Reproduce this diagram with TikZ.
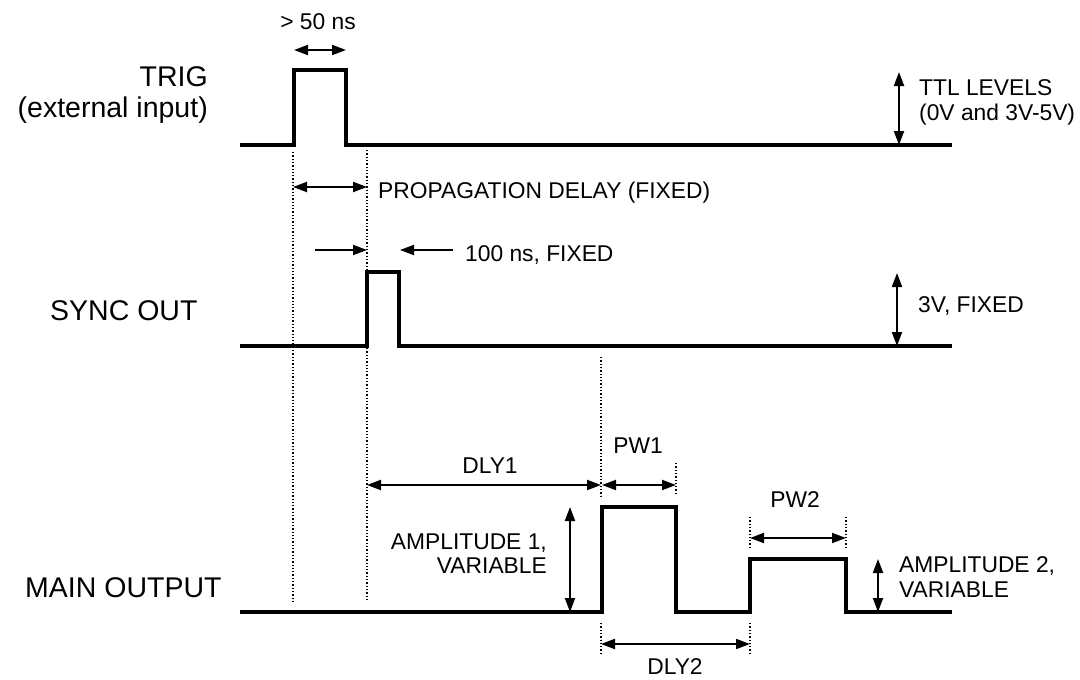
\documentclass[tikz,border=0pt]{standalone}
\usepackage{fontspec}
\setmainfont{Liberation Sans}
\usetikzlibrary{arrows.meta}
\begin{document}
\begin{tikzpicture}[x=1pt,y=-1pt,
  wave/.style={line width=4pt, line join=miter, line cap=butt},
  dim/.style={line width=2pt, {Triangle[length=14pt,width=10pt]}-{Triangle[length=14pt,width=10pt]}},
  onearrow/.style={line width=2pt, -{Triangle[length=14pt,width=10pt]}},
  guide/.style={line width=1.3pt, dash pattern=on 1.3pt off 2pt},
  biglbl/.style={font=\fontsize{28.5}{34}\selectfont, inner sep=0pt},
  lbl/.style={font=\fontsize{22.8}{26}\selectfont, inner sep=0pt}]
\useasboundingbox (0,0) rectangle (1080,680);

% ---------- key coordinates ----------
\coordinate (t0) at (240,145);   \coordinate (tend) at (952,145);
\coordinate (s0) at (240,346);   \coordinate (send) at (952,346);
\coordinate (m0) at (240,612);   \coordinate (mend) at (952,612);

% ---------- waveforms ----------
\draw[wave] (t0) -- (294,145) -- (294,70) -- (346,70) -- (346,145) -- (tend);
\draw[wave] (s0) -- (367,346) -- (367,272) -- (399,272) -- (399,346) -- (send);
\draw[wave] (m0) -- (602,612) -- (602,507) -- (676,507) -- (676,612)
            -- (750,612) -- (750,559) -- (846,559) -- (846,612) -- (mend);

% ---------- dotted guides ----------
\coordinate (g1a) at (293,152); \coordinate (g1b) at (293,601);
\coordinate (g2a) at (367,150); \coordinate (g2b) at (367,601);
\draw[guide] (g1a) -- (g1b);
\draw[guide] (g2a) -- (g2b);
\coordinate (g3a) at (601,357); \coordinate (g3b) at (601,496);
\draw[guide] (g3a) -- (g3b);
\coordinate (g4a) at (676,463); \coordinate (g4b) at (676,494);
\draw[guide] (g4a) -- (g4b);
\coordinate (g5a) at (601,623); \coordinate (g5b) at (601,654);
\draw[guide] (g5a) -- (g5b);
\coordinate (g6a) at (750,623); \coordinate (g6b) at (750,654);
\draw[guide] (g6a) -- (g6b);
\coordinate (g7a) at (750,517); \coordinate (g7b) at (750,548);
\draw[guide] (g7a) -- (g7b);
\coordinate (g8a) at (846,517); \coordinate (g8b) at (846,548);
\draw[guide] (g8a) -- (g8b);

% ---------- dimension arrows ----------
\coordinate (w50a) at (294,50);  \coordinate (w50b) at (346,50);
\draw[dim] (w50a) -- (w50b);
\coordinate (pda) at (293,187);  \coordinate (pdb) at (367,187);
\draw[dim] (pda) -- (pdb);
\coordinate (hna) at (315,250);  \coordinate (hnb) at (367,250);
\draw[onearrow] (hna) -- (hnb);
\coordinate (hnc) at (453,250);  \coordinate (hnd) at (400,250);
\draw[onearrow] (hnc) -- (hnd);
\coordinate (ttla) at (899,72);  \coordinate (ttlb) at (899,145);
\draw[dim] (ttla) -- (ttlb);
\coordinate (v3a) at (897,273);  \coordinate (v3b) at (897,346);
\draw[dim] (v3a) -- (v3b);
\coordinate (d1a) at (367,485);  \coordinate (d1b) at (601,485);
\draw[dim] (d1a) -- (d1b);
\coordinate (p1a) at (602,485);  \coordinate (p1b) at (676,485);
\draw[dim] (p1a) -- (p1b);
\coordinate (a1a) at (570,507);  \coordinate (a1b) at (570,612);
\draw[dim] (a1a) -- (a1b);
\coordinate (d2a) at (601,644);  \coordinate (d2b) at (750,644);
\draw[dim] (d2a) -- (d2b);
\coordinate (p2a) at (750,538);  \coordinate (p2b) at (846,538);
\draw[dim] (p2a) -- (p2b);
\coordinate (a2a) at (878,559);  \coordinate (a2b) at (878,612);
\draw[dim] (a2a) -- (a2b);

% ---------- signal names ----------
\node[biglbl, anchor=base east] (trig) at (208,86) {TRIG};
\node[biglbl, anchor=base east] (trigsub) at (208,117) {(external input)};
\node[biglbl, anchor=base west] (sync) at (50,320) {SYNC OUT};
\node[biglbl, anchor=base west] (main) at (25,597) {MAIN OUTPUT};

% ---------- annotations ----------
\node[lbl, anchor=base] (l50) at (318,29) {> 50 ns};
\node[lbl, anchor=base west] (lpd) at (378,198) {PROPAGATION DELAY (FIXED)};
\node[lbl, anchor=base west] (l100) at (465,261) {100 ns, FIXED};
\node[lbl, anchor=base west] (lttl1) at (919,95) {TTL LEVELS};
\node[lbl, anchor=base west] (lttl2) at (919,120) {(0V and 3V-5V)};
\node[lbl, anchor=base west] (l3v) at (918,312) {3V, FIXED};
\node[lbl, anchor=base] (ldly1) at (490,473) {DLY1};
\node[lbl, anchor=base] (lpw1) at (638,453) {PW1};
\node[lbl, anchor=base] (lpw2) at (795,507) {PW2};
\node[lbl, anchor=base] (ldly2) at (675,674) {DLY2};
\node[lbl, anchor=base east] (lam1a) at (547,549) {AMPLITUDE 1,};
\node[lbl, anchor=base east] (lam1b) at (547,573) {VARIABLE};
\node[lbl, anchor=base west] (lam2a) at (899,572) {AMPLITUDE 2,};
\node[lbl, anchor=base west] (lam2b) at (899,597) {VARIABLE};
\end{tikzpicture}
\end{document}
